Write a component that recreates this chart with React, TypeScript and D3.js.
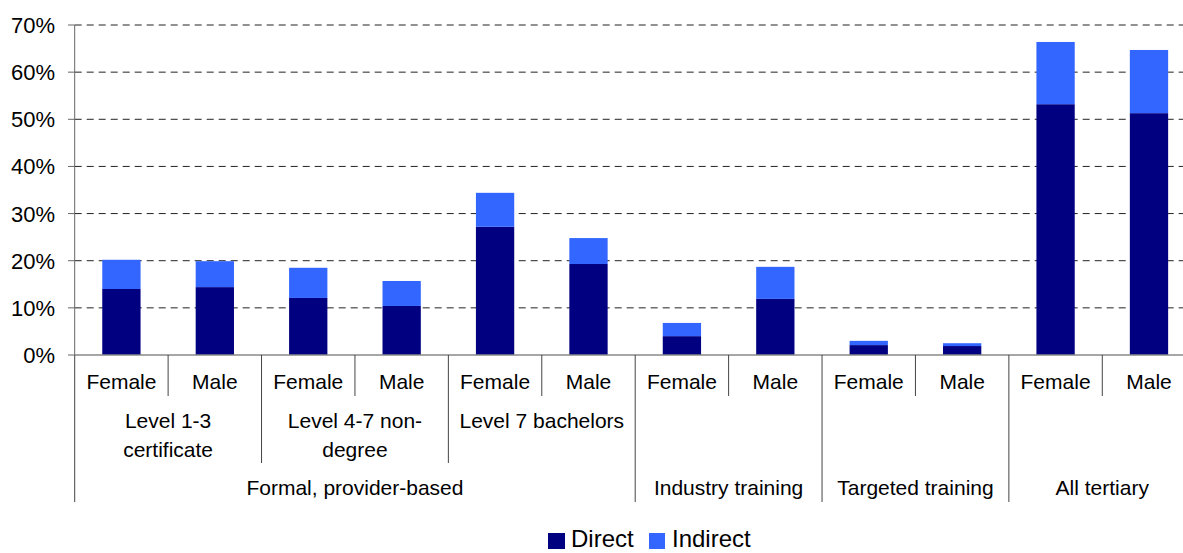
import React from "react";
import * as d3 from "d3";

// bar categories (lowest level of the axis)
const genders = ["Female", "Male", "Female", "Male", "Female", "Male", "Female", "Male", "Female", "Male", "Female", "Male"];
// middle level, each spans two bars
const levels = [["Level 1-3", "certificate"], ["Level 4-7 non-", "degree"], ["Level 7 bachelors"], [], [], []];
// top level
const groups = ["Formal, provider-based", "Industry training", "Targeted training", "All tertiary"];
const groupSpans = [6, 2, 2, 2];

// series values (%)
const direct = [14.0, 14.4, 12.1, 10.4, 27.2, 19.3, 4.0, 11.9, 2.1, 1.9, 53.2, 51.3];
const indirect = [6.2, 5.5, 6.4, 5.3, 7.2, 5.5, 2.8, 6.8, 0.9, 0.6, 13.2, 13.4];
const yTicks = [0, 10, 20, 30, 40, 50, 60, 70];

const seriesNames = ["Direct", "Indirect"];
const colors = ["#000080", "#3366FF"];

const W = 1183, H = 553;
const font = "Liberation Sans, Arial, sans-serif";

export default function App() {
  const idx = genders.map((_, i) => i);
  const x = d3.scaleBand<number>().domain(idx).range([74.7, 1195.7]).padding(0);
  const y = d3.scaleLinear().domain([0, 70]).range([355, 25]);
  const bw = x.bandwidth();
  const barW = bw * 0.41;

  const table = idx.map(i => ({ Direct: direct[i], Indirect: indirect[i], i }));
  const stacked = d3.stack<any>().keys(seriesNames)(table);

  // separators: index k = boundary before bar k
  const groupStarts: number[] = [];
  let acc = 0;
  groupSpans.forEach(s => { groupStarts.push(acc); acc += s; });
  const sepBottom = (k: number) => {
    if (k === 0 || groupStarts.includes(k)) return 502;
    if (k % 2 === 0) return 463;
    return 396;
  };
  const edge = (k: number) => (x(k) ?? 0);

  return (
    <svg width={W} height={H} style={{ position: "absolute", left: 0, top: 0, background: "#fff" }} fontFamily={font}>
      {/* gridlines */}
      {yTicks.filter(t => t > 0).map(t => (
        <line key={"g" + t} x1={74.7} x2={W} y1={y(t)} y2={y(t)} stroke="#222" strokeWidth={1} strokeDasharray="7,5" />
      ))}
      {/* y ticks and labels */}
      {yTicks.map(t => (
        <g key={"t" + t}>
          <line x1={68} x2={74.7} y1={y(t)} y2={y(t)} stroke="#666" />
          <text x={55} y={y(t) + 8} textAnchor="end" fontSize={22} fill="#000">{t}%</text>
        </g>
      ))}
      {/* bars */}
      {stacked.map((s, si) => (
        <g key={s.key} fill={colors[si]}>
          {s.map((d, i) => (
            <rect key={i} x={(x(i) ?? 0) + (bw - barW) / 2} width={barW} y={y(d[1])} height={y(d[0]) - y(d[1])} />
          ))}
        </g>
      ))}
      {/* axes */}
      <line x1={74.7} x2={74.7} y1={25} y2={355} stroke="#666" />
      <line x1={74.7} x2={W} y1={355} y2={355} stroke="#888" strokeWidth={1.5} />
      {idx.map(k => (
        <line key={"s" + k} x1={edge(k)} x2={edge(k)} y1={355} y2={sepBottom(k)} stroke="#444" />
      ))}
      {/* bar labels */}
      {genders.map((g, i) => (
        <text key={"c" + i} x={(x(i) ?? 0) + bw / 2} y={389} textAnchor="middle" fontSize={21}>{g}</text>
      ))}
      {levels.map((lines, j) => (
        <text key={"l" + j} textAnchor="middle" fontSize={21}>
          {lines.map((ln, li) => (
            <tspan key={li} x={edge(j * 2) + bw} y={428 + li * 28.5}>{ln}</tspan>
          ))}
        </text>
      ))}
      {groups.map((g, j) => (
        <text key={"gr" + j} x={edge(groupStarts[j]) + (groupSpans[j] * bw) / 2} y={495} textAnchor="middle" fontSize={21}>{g}</text>
      ))}
      {/* legend */}
      <rect x={548} y={533} width={17} height={16} fill={colors[0]} />
      <text x={571} y={547} fontSize={24}>{seriesNames[0]}</text>
      <rect x={649} y={533} width={16} height={16} fill={colors[1]} />
      <text x={672} y={547} fontSize={24}>{seriesNames[1]}</text>
    </svg>
  );
}
